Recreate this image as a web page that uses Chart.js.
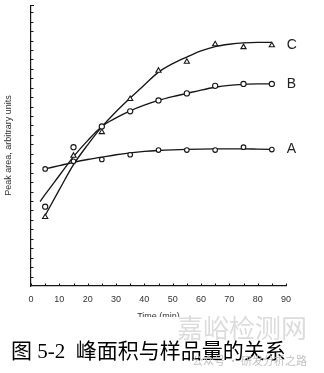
<!DOCTYPE html>
<html>
<head>
<meta charset="utf-8">
<title>峰面积与样品量的关系</title>
<script src="https://cdn.jsdelivr.net/npm/chart.js@4.4.0/dist/chart.umd.min.js"></script>
<style>
  html, body { margin: 0; padding: 0; background: #fff; }
  #figure { position: relative; width: 324px; height: 373px; overflow: hidden; background: #fff; }
  #plot { position: absolute; left: 0; top: 0; width: 324px; height: 322px; }
  /* caption strip sits over the bottom of the plot canvas */
  #caption-box { position: absolute; left: 0; top: 317px; width: 324px; height: 56px; background: #fff; }
  #caption { position: absolute; left: 11px; top: 23px; font: 21px/22px "Liberation Serif", "Noto Sans CJK SC", serif; color: #000; white-space: nowrap; }
  #mark { position: absolute; left: 177px; top: -3px; font: 26px/26px "Noto Sans CJK SC", sans-serif; color: #dcdcdc; white-space: nowrap; }
  #mark-sub { position: absolute; left: 192px; top: 37px; font: 11px/12px "Noto Sans CJK SC", sans-serif; color: #c2c2c2; white-space: nowrap; }
</style>
</head>
<body>
<div id="figure">
  <div id="plot"><canvas id="chart"></canvas></div>
  <div id="caption-box">
    <div id="caption">图 5-2&nbsp;&nbsp;峰面积与样品量的关系</div>
    <div id="mark">嘉峪检测网</div>
    <div id="mark-sub">公众号 · 研发分析之路</div>
  </div>
</div>
<script>
// measured points (time in min, peak area in arbitrary units)
const times = [5, 15, 25, 35, 45, 55, 65, 75, 85];
const pointsA = [12.4, 13.2, 13.4, 13.9, 14.4, 14.4, 14.4, 14.7, 14.45];
const pointsB = [8.4, 14.7, 16.9, 18.5, 19.65, 20.4, 21.2, 21.4, 21.4];
const pointsC = [7.3, 13.8, 16.3, 19.8, 22.8, 23.75, 25.6, 25.3, 25.5];

// smoothed trend curves
const fitTimesA = [5, 10, 15, 20, 25, 30, 35, 40, 45, 50, 55, 60, 65, 70, 75, 80, 85];
const fitA = [12.4, 12.75, 13.1, 13.4, 13.65, 13.9, 14.1, 14.25, 14.35, 14.42, 14.47, 14.5, 14.52, 14.53, 14.53, 14.5, 14.47];
const fitTimesB = [3.2, 5, 10, 15, 20, 25, 30, 35, 40, 45, 50, 55, 60, 65, 70, 75, 80, 85];
const fitB = [8.95, 9.7, 11.7, 13.7, 15.4, 16.9, 17.8, 18.55, 19.15, 19.65, 20.05, 20.4, 20.75, 21.05, 21.25, 21.35, 21.4, 21.4];
const fitTimesC = [4.5, 10, 15, 20, 25, 30, 35, 40, 45, 50, 55, 60, 65, 70, 75, 80, 85];
const fitC = [7.2, 10.2, 12.85, 14.95, 16.85, 18.45, 19.9, 21.3, 22.65, 23.55, 24.25, 24.9, 25.35, 25.6, 25.75, 25.8, 25.8];

const seriesNames = ['A', 'B', 'C'];
const xTickLabels = [0, 10, 20, 30, 40, 50, 60, 70, 80, 90];
const xMinorStep = 5;
const yMax = 29.75;

const INK = '#161616';

function pairs(xs, ys) {
  return xs.map((x, i) => ({ x: x, y: ys[i] }));
}

// tick marks point into the plot on both axes
const innerTicks = {
  id: 'innerTicks',
  afterDraw(chart) {
    const { ctx, scales: { x, y } } = chart;
    ctx.save();
    ctx.strokeStyle = INK;
    ctx.lineWidth = 1;
    ctx.beginPath();
    for (let v = xTickLabels[0]; v <= xTickLabels[xTickLabels.length - 1]; v += xMinorStep) {
      const px = Math.round(x.getPixelForValue(v)) + 0.5;
      ctx.moveTo(px, y.bottom);
      ctx.lineTo(px, y.bottom - 2.5);
    }
    for (let v = 1; v <= Math.floor(y.max); v++) {
      const py = Math.round(y.getPixelForValue(v)) + 0.5;
      ctx.moveTo(x.left, py);
      ctx.lineTo(x.left + 2.5, py);
    }
    const top = Math.round(y.getPixelForValue(y.max)) + 0.5;
    ctx.moveTo(x.left, top);
    ctx.lineTo(x.left + 3, top);
    ctx.stroke();
    ctx.restore();
  }
};

// series letter to the right of each curve's last point
const seriesTags = {
  id: 'seriesTags',
  afterDatasetsDraw(chart) {
    const ctx = chart.ctx;
    ctx.save();
    ctx.font = '14px "Liberation Sans", Arial, sans-serif';
    ctx.fillStyle = '#222';
    ctx.textBaseline = 'middle';
    ctx.textAlign = 'left';
    chart.data.datasets.forEach((ds, i) => {
      if (!ds.tag) return;
      const meta = chart.getDatasetMeta(i);
      const last = meta.data[meta.data.length - 1];
      ctx.fillText(ds.label, last.x + 15, last.y);
    });
    ctx.restore();
  }
};

function markers(name, values, style, radius) {
  return {
    label: name,
    tag: true,
    data: pairs(times, values),
    showLine: false,
    pointStyle: style,
    pointRadius: radius,
    pointBorderWidth: 1.1,
    pointBorderColor: INK,
    pointBackgroundColor: '#fff',
    order: 0
  };
}

function curve(name, xs, ys) {
  return {
    label: name + ' fit',
    data: pairs(xs, ys),
    showLine: true,
    borderColor: INK,
    borderWidth: 1.35,
    pointRadius: 0,
    cubicInterpolationMode: 'monotone',
    fill: false,
    order: 1
  };
}

Chart.defaults.font.family = '"Liberation Sans", Arial, sans-serif';

new Chart(document.getElementById('chart'), {
  type: 'scatter',
  data: {
    datasets: [
      markers(seriesNames[0], pointsA, 'circle', 2.3),
      markers(seriesNames[1], pointsB, 'circle', 2.6),
      markers(seriesNames[2], pointsC, 'triangle', 3),
      curve(seriesNames[0], fitTimesA, fitA),
      curve(seriesNames[1], fitTimesB, fitB),
      curve(seriesNames[2], fitTimesC, fitC)
    ]
  },
  options: {
    responsive: true,
    maintainAspectRatio: false,
    animation: false,
    devicePixelRatio: 1,
    layout: { padding: { top: 3, right: 38, bottom: 0, left: 0 } },
    plugins: {
      legend: { display: false },
      tooltip: { enabled: false }
    },
    scales: {
      x: {
        type: 'linear',
        min: xTickLabels[0],
        max: xTickLabels[xTickLabels.length - 1],
        afterFit: (scale) => { scale.height = 36; },
        afterBuildTicks: (scale) => { scale.ticks = xTickLabels.map(v => ({ value: v })); },
        ticks: { color: '#333', font: { size: 9 }, padding: 8, maxRotation: 0 },
        grid: { display: false, drawTicks: false },
        border: { display: true, color: INK, width: 1.2 },
        title: { display: true, text: 'Time (min)', color: '#333', font: { size: 9 }, padding: { top: 0, bottom: 0 } }
      },
      y: {
        type: 'linear',
        min: 0,
        max: yMax,
        afterFit: (scale) => { scale.width = 31; },
        ticks: { display: false },
        grid: { display: false, drawTicks: false },
        border: { display: true, color: INK, width: 1.2 },
        title: { display: true, text: 'Peak area, arbitrary units', color: '#333', font: { size: 9 }, padding: { top: 3, bottom: 0 } }
      }
    }
  },
  plugins: [innerTicks, seriesTags]
});
</script>
</body>
</html>
